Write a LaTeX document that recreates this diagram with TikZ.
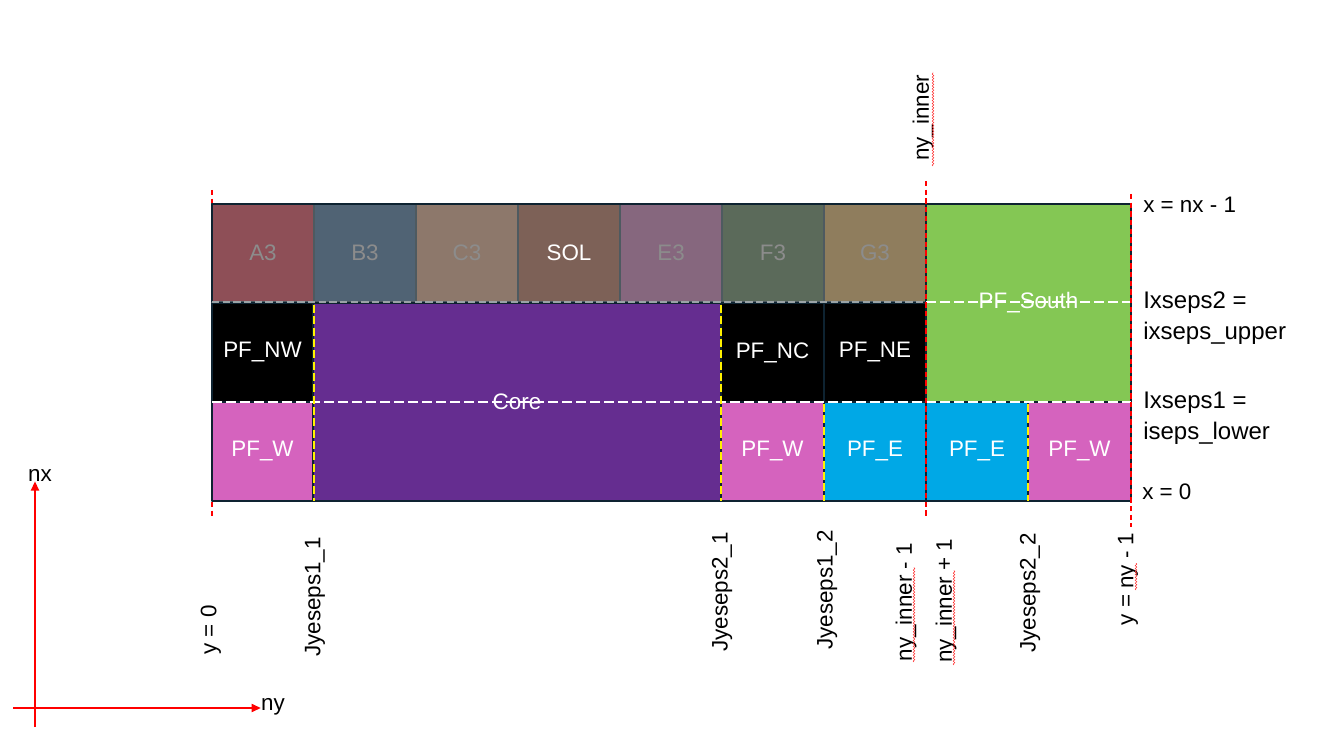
\documentclass[tikz,border=0pt]{standalone}
\usepackage{fontspec}
\setmainfont{Liberation Sans}
\usetikzlibrary{arrows.meta,decorations.pathmorphing}
% cell colours
\definecolor{frame}{HTML}{0E2331}
\definecolor{sepgray}{HTML}{4E5A60}
\definecolor{lblgray}{HTML}{8C8C8C}
\definecolor{dashgray}{HTML}{9AA3A6}
\definecolor{cA}{HTML}{8E4F57}
\definecolor{cB}{HTML}{506374}
\definecolor{cC}{HTML}{8D786B}
\definecolor{cSOL}{HTML}{7D6157}
\definecolor{cE}{HTML}{86677E}
\definecolor{cF}{HTML}{5B6A5A}
\definecolor{cG}{HTML}{8F7D5D}
\definecolor{corepurple}{HTML}{652D90}
\definecolor{pfw}{HTML}{D563BE}
\definecolor{pfe}{HTML}{00A8E6}
\definecolor{pfsouth}{HTML}{84C754}
\tikzset{
  cell/.style={draw=frame, line width=1.5pt},
  topcell/.style={draw=sepgray, line width=1.2pt},
  lbl/.style={font=\fontsize{16.8}{22.5}\selectfont, inner sep=0pt},
  wlbl/.style={lbl, text=white},
  rlbl/.style={lbl, rotate=90},
  redguide/.style={red, line width=1.5pt, dash pattern=on 4pt off 2.5pt},
  yguide/.style={yellow, line width=1.5pt, dash pattern=on 6pt off 2.5pt},
  wguide/.style={white, line width=1.2pt, dash pattern=on 7.5pt off 3pt},
  gguide/.style={dashgray, line width=1.2pt, dash pattern=on 5.5pt off 2.5pt},
  squig/.style={red!85, line width=0.35pt, decorate, decoration={snake, amplitude=0.7pt, segment length=2.2pt}},
}
\begin{document}
\begin{tikzpicture}[x=0.75pt,y=-0.75pt,line join=round]
\useasboundingbox (0,0) rectangle (1331,741);
% guide behind the grid
\draw[redguide] (212,190)--(212,518);
% top row
\foreach \nm/\fc/\tc/\txt [count=\i from 0] in {a3/cA/lblgray/A3, b3/cB/lblgray/B3, c3/cC/lblgray/C3, sol/cSOL/white/SOL, e3/cE/lblgray/E3, f3/cF/lblgray/F3, g3/cG/lblgray/G3}
  \draw[topcell, fill=\fc] ({212+102*\i},204) rectangle ({314+102*\i},302) node[midway, lbl, text=\tc] (\nm) {\txt};
% middle and lower rows
\draw[cell, fill=corepurple] (313,303) rectangle (721,501) node[midway, wlbl] (core) {Core};
\draw[cell, fill=black] (212,303) rectangle (313,402) node[midway, wlbl] (pfnw) {PF\_NW};
\draw[cell, fill=black] (721,303) rectangle (824,402) node[midway, wlbl] (pfnc) {PF\_NC};
\draw[cell, fill=black] (824,303) rectangle (926,402) node[midway, wlbl] (pfne) {PF\_NE};
\draw[cell, fill=pfw] (212,402) rectangle (313,501) node[midway, wlbl] (pfwa) {PF\_W};
\draw[cell, fill=pfw] (721,402) rectangle (824,501) node[midway, wlbl] (pfwb) {PF\_W};
\draw[cell, fill=pfe] (824,402) rectangle (926,501) node[midway, wlbl] (pfea) {PF\_E};
\draw[cell, fill=pfe] (926,402) rectangle (1028,501) node[midway, wlbl] (pfeb) {PF\_E};
\draw[cell, fill=pfw] (1028,402) rectangle (1131,501) node[midway, wlbl] (pfwc) {PF\_W};
\draw[cell, fill=pfsouth] (926,204) rectangle (1131,402);
\draw[cell] (212,302)--(212,204)--(926,204)--(926,302);
% separatrix lines
\draw[gguide] (212,302)--(926,302);
\draw[wguide] (926,302)--(1131,302);
\draw[wguide] (212,402)--(1131,402);
\node[wlbl] (pfsouth) at (1028.5,303) {PF\_South};
\foreach \xx in {314,721} \draw[yguide] (\xx,305)--(\xx,501);
\foreach \xx in {824,1028} \draw[yguide] (\xx,404)--(\xx,501);
\draw[redguide] (926,181)--(926,518);
\draw[redguide] (1131,194)--(1131,527);
% labels on the right
\node[lbl, anchor=west] (xtop) at (1143,205) {x = nx - 1};
\node[lbl, anchor=west, align=left, font=\fontsize{18}{23}\selectfont] (sep2) at (1143,318) {Ixseps2 =\\ixseps\_upper};
\node[lbl, anchor=west, align=left, font=\fontsize{18}{23}\selectfont] (sep1) at (1143,418) {Ixseps1 =\\iseps\_lower};
\node[lbl, anchor=west] (xbot) at (1142,492) {x = 0};
% labels below and above
\node[rlbl] (nyin) at (923,118) {ny\_inner};
\foreach \nm/\xx/\yy/\txt in {y0/211/630/{y = 0}, j11/315/597/Jyeseps1\_1, j21/722/592/Jyeseps2\_1, j12/827/590/Jyeseps1\_2, nym/906/602/{ny\_inner - 1}, nyp/946/601/{ny\_inner + 1}, j22/1030/593/Jyeseps2\_2, yend/1128/579/{y = ny - 1}}
  \node[rlbl] (\nm) at (\xx,\yy) {\txt};
\draw[squig] (933,166)--(933,72);
\draw[squig] (914,662)--(914,567);
\draw[squig] (954,665)--(954,570);
\draw[squig] (1136,590)--(1136,563);
% axes
\node[lbl] (nx) at (40,475) {nx};
\node[lbl] (ny) at (273,707) {ny};
\path (35,727) coordinate (o1) (13,708) coordinate (o2);
\draw[red, line width=1.5pt, -{Triangle[length=7pt,width=6pt]}] (o1)--(o1 |- nx.south);
\draw[red, line width=1.5pt, -{Triangle[length=7pt,width=6pt]}] (o2)--(o2 -| ny.west);
\end{tikzpicture}
\end{document}
